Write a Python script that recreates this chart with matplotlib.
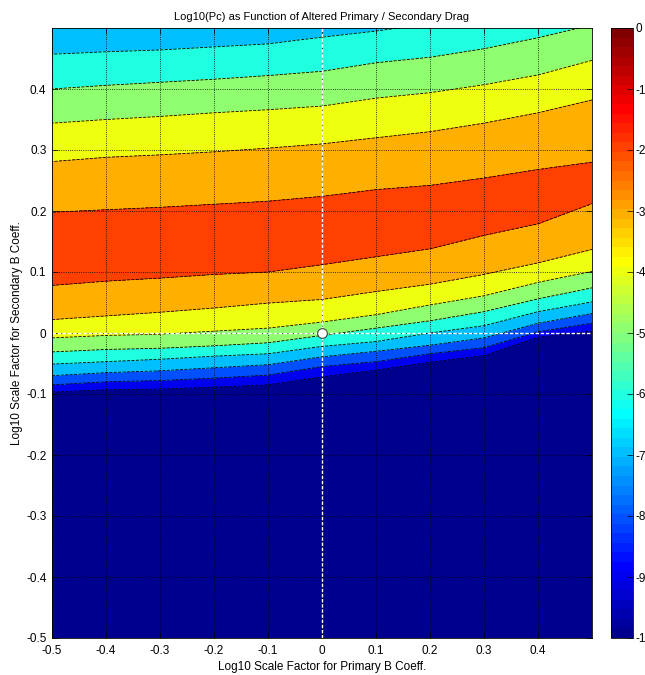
import numpy as np
import matplotlib
matplotlib.use('Agg')
from matplotlib import pyplot as plt
from matplotlib import colors as mcolors
from matplotlib import cm

plt.rcParams['font.family'] = ['Liberation Sans', 'DejaVu Sans']
plt.rcParams['axes.unicode_minus'] = False

# primary B coeff scale factor (columns of the sample grid)
x_cols = [-0.5, -0.4, -0.3, -0.2, -0.1, 0.0, 0.1, 0.2, 0.3, 0.4, 0.5]

# secondary scale factor at which log10(Pc) takes the value in row_values,
# one list per row
y_floor = [-0.5, -0.5, -0.5, -0.5, -0.5, -0.5, -0.5, -0.5, -0.5, -0.5, -0.5]
y_m9 = [-0.097, -0.093, -0.092, -0.089, -0.085, -0.072, -0.061, -0.048, -0.037, -0.007, 0.003]
y_m8 = [-0.085, -0.080, -0.078, -0.074, -0.069, -0.055, -0.047, -0.034, -0.024, 0.002, 0.016]
y_m7 = [-0.070, -0.065, -0.062, -0.057, -0.052, -0.039, -0.030, -0.020, -0.008, 0.016, 0.032]
y_m6_lo = [-0.051, -0.047, -0.043, -0.038, -0.034, -0.022, -0.014, 0.000, 0.012, 0.035, 0.051]
y_m5_lo = [-0.031, -0.027, -0.025, -0.021, -0.016, -0.004, 0.008, 0.020, 0.035, 0.056, 0.074]
y_m4_lo = [-0.008, -0.004, -0.002, 0.003, 0.008, 0.018, 0.030, 0.046, 0.061, 0.083, 0.101]
y_m3_lo = [0.022, 0.028, 0.034, 0.041, 0.049, 0.055, 0.068, 0.080, 0.096, 0.115, 0.137]
y_m2_lo = [0.078, 0.085, 0.090, 0.096, 0.100, 0.112, 0.125, 0.138, 0.160, 0.179, 0.212]
y_peak = [0.138, 0.144, 0.148, 0.154, 0.158, 0.168, 0.180, 0.190, 0.207, 0.224, 0.246]
y_m2_hi = [0.198, 0.202, 0.206, 0.211, 0.216, 0.224, 0.235, 0.242, 0.254, 0.268, 0.280]
y_m3_hi = [0.281, 0.288, 0.292, 0.297, 0.303, 0.310, 0.320, 0.330, 0.344, 0.361, 0.382]
y_m4_hi = [0.344, 0.350, 0.355, 0.361, 0.366, 0.372, 0.385, 0.394, 0.407, 0.423, 0.447]
y_m5_hi = [0.400, 0.406, 0.411, 0.416, 0.422, 0.429, 0.443, 0.452, 0.466, 0.484, 0.505]
y_m6_hi = [0.457, 0.461, 0.464, 0.469, 0.474, 0.485, 0.495, 0.507, 0.525, 0.545, 0.570]
y_top = [0.6, 0.6, 0.6, 0.6, 0.6, 0.6, 0.6, 0.6, 0.6, 0.6, 0.6]

row_values = [-10, -9, -8, -7, -6, -5, -4, -3, -2, -1.5, -2, -3, -4, -5, -6, -7]

levels = [-10, -9, -8, -7, -6, -5, -4, -3, -2, -1, 0]
xtick_vals = [-0.5, -0.4, -0.3, -0.2, -0.1, 0, 0.1, 0.2, 0.3, 0.4]
xtick_labels = ['-0.5', '-0.4', '-0.3', '-0.2', '-0.1', '0', '0.1', '0.2', '0.3', '0.4']
ytick_vals = [-0.5, -0.4, -0.3, -0.2, -0.1, 0, 0.1, 0.2, 0.3, 0.4]
ytick_labels = ['-0.5', '-0.4', '-0.3', '-0.2', '-0.1', '0', '0.1', '0.2', '0.3', '0.4']
cbar_ticks = [-10, -9, -8, -7, -6, -5, -4, -3, -2, -1, 0]

# build the curvilinear grid
Y = np.array([y_floor, y_m9, y_m8, y_m7, y_m6_lo, y_m5_lo, y_m4_lo, y_m3_lo, y_m2_lo,
              y_peak, y_m2_hi, y_m3_hi, y_m4_hi, y_m5_hi, y_m6_hi, y_top])
X = np.tile(np.array(x_cols), (Y.shape[0], 1))
Z = np.tile(np.array(row_values, dtype=float)[:, None], (1, len(x_cols)))

# matlab style jet(64), mpl's jet is a bit different
def matlab_jet(m=64):
    n = int(np.ceil(m / 4))
    u = np.concatenate([np.arange(1, n + 1) / n, np.ones(n - 1), np.arange(n, 0, -1) / n])
    g = int(np.ceil(n / 2)) - (1 if m % 4 == 1 else 0) + np.arange(1, len(u) + 1)
    r = g + n
    b = g - n
    J = np.zeros((m, 3))
    ok = r <= m
    J[r[ok] - 1, 0] = u[ok]
    ok = g <= m
    J[g[ok] - 1, 1] = u[ok]
    ok = b >= 1
    J[b[ok] - 1, 2] = u[ok]
    return mcolors.ListedColormap(J)

jet = matlab_jet(64)
norm = mcolors.Normalize(vmin=-10, vmax=0)
# matlab colours each band by its lower level
band_colors = [jet(norm(l)) for l in levels[:-1]]

fig = plt.figure(figsize=(6.45, 6.75), dpi=100)
ax = fig.add_axes([52/645, 37/675, 540/645, 610/675])

ax.contourf(X, Y, Z, levels=levels, colors=band_colors)
ax.contour(X, Y, Z, levels=levels[1:-1], colors='k', linewidths=0.6)

# nominal point crosshair
ax.axvline(0, color='white', linestyle='--', dashes=(2.5, 1.2), linewidth=1.0)
ax.axhline(0, color='white', linestyle='--', dashes=(2.5, 1.2), linewidth=1.0)
ax.plot([0], [0], 'o', markersize=7, markerfacecolor='white', markeredgecolor='#444444',
        markeredgewidth=0.8)

ax.set_xlim(-0.5, 0.5)
ax.set_ylim(-0.5, 0.5)
ax.set_xticks(xtick_vals)
ax.set_xticklabels(xtick_labels)
ax.set_yticks(ytick_vals)
ax.set_yticklabels(ytick_labels)
ax.tick_params(direction='in', length=4, width=0.5, labelsize=8.5, top=True, right=True)
ax.tick_params(axis='x', pad=5)
ax.tick_params(axis='y', pad=4)
ax.grid(True, color='black', linestyle=':', linewidth=0.6)
for s in ax.spines.values():
    s.set_linewidth(0.6)

ax.set_title('Log10(Pc) as Function of Altered Primary / Secondary Drag', fontsize=8, pad=6)
ax.set_xlabel('Log10 Scale Factor for Primary B Coeff.', fontsize=8.5, labelpad=3)
ax.set_ylabel('Log10 Scale Factor for Secondary B Coeff.', fontsize=8.5, labelpad=2)

# colorbar
cax = fig.add_axes([611/645, 37/675, 22/645, 610/675])
sm = cm.ScalarMappable(norm=norm, cmap=jet)
cb = fig.colorbar(sm, cax=cax, ticks=cbar_ticks)
cb.ax.set_yticklabels([str(t) for t in cbar_ticks])
cb.ax.tick_params(direction='in', length=4, width=0.5, labelsize=8.5, pad=2)
cb.outline.set_linewidth(0.6)

fig.savefig('out.png', dpi=100)
